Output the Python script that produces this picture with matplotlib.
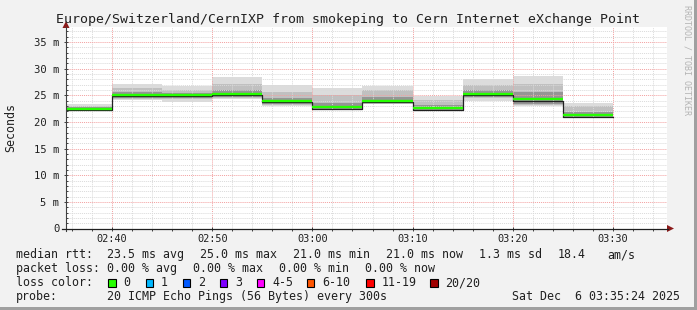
from datetime import datetime, timedelta
import numpy as np
import matplotlib
matplotlib.use('Agg')
import matplotlib.pyplot as plt
import matplotlib.dates as mdates
import matplotlib.transforms as mtransforms
from matplotlib.lines import Line2D
from matplotlib.patches import Polygon, Rectangle
from matplotlib.ticker import MultipleLocator, FuncFormatter

# fine dell'intervallo (step 300s) per ogni campione
seg_end = ['02:40', '02:45', '02:50', '02:55', '03:00', '03:05',
           '03:10', '03:15', '03:20', '03:25', '03:30']
# mediana rtt (ms)
median = [22.2, 24.8, 24.8, 25.0, 23.7, 22.5, 23.7, 22.3, 25.0, 24.0, 21.0]
# fumo: ping minimo/massimo e fasce interne (ms)
smoke_lo = [22.0, 24.1, 23.8, 24.2, 23.0, 22.2, 23.3, 22.2, 24.0, 23.0, 21.0]
smoke_hi = [23.3, 27.1, 26.8, 28.4, 26.9, 26.4, 26.8, 24.9, 28.1, 28.7, 23.5]
mid_lo = [22.1, 24.3, 24.2, 24.4, 23.1, 22.3, 23.4, 22.3, 24.4, 23.1, 21.0]
mid_hi = [23.0, 26.3, 26.0, 27.2, 25.6, 25.0, 26.0, 24.1, 26.9, 27.2, 22.9]
core_lo = [22.1, 24.5, 24.5, 24.6, 23.3, 22.4, 23.5, 22.3, 24.6, 23.4, 21.0]
core_hi = [22.7, 25.6, 25.5, 25.9, 24.4, 23.5, 24.7, 23.2, 25.9, 25.6, 21.9]

loss_labels = ['0', '1', '2', '3', '4-5', '6-10', '11-19', '20/20']
loss_colors = ['#26ff00', '#00b8ff', '#0059ff', '#7e00ff', '#ff00ff',
               '#ff5500', '#ff0000', '#a10000']

title = 'Europe/Switzerland/CernIXP from smokeping to Cern Internet eXchange Point'
stamp = 'Sat Dec  6 03:35:24 2025'

W, H = 697, 310
MONO = 'DejaVu Sans Mono'


def px(x, y):
    # pixel (dall'alto a sinistra) -> frazione di figura
    return x / W, 1 - y / H


fig = plt.figure(figsize=(W / 100, H / 100), dpi=100, facecolor='#f2f2f2')
ax = fig.add_axes([66 / W, (H - 228.5) / H, (667 - 66) / W, (228.5 - 27) / H])
ax.set_facecolor('white')

day = datetime(2025, 12, 6)
ends = [day + timedelta(hours=int(s[:2]), minutes=int(s[3:])) for s in seg_end]
starts = [e - timedelta(seconds=300) for e in ends]
width = 300 / 86400.0
xs = mdates.date2num(starts)

sl, sh = np.array(smoke_lo), np.array(smoke_hi)
ml, mh = np.array(mid_lo), np.array(mid_hi)
cl, ch = np.array(core_lo), np.array(core_hi)
ax.bar(xs, sh - sl, bottom=sl, width=width, align='edge', color='#dcdcdc', linewidth=0, zorder=1)
ax.bar(xs, mh - ml, bottom=ml, width=width, align='edge', color='#c0c0c0', linewidth=0, zorder=1.1)
ax.bar(xs, ch - cl, bottom=cl, width=width, align='edge', color='#959595', linewidth=0, zorder=1.2)

edges = list(xs) + [mdates.date2num(ends[-1])]
ax.step(edges, median + [median[-1]], where='post', color='#202020', lw=0.9, zorder=3)
up = mtransforms.offset_copy(ax.transData, fig=fig, x=0, y=1.3, units='dots')
ax.hlines(median, xs, mdates.date2num(ends), color=loss_colors[0], lw=1.7,
          transform=up, zorder=4)

ax.set_xlim(datetime(2025, 12, 6, 2, 35, 24), datetime(2025, 12, 6, 3, 35, 24))
ax.set_ylim(0, 37.8)

ax.xaxis.set_major_locator(mdates.MinuteLocator(byminute=range(0, 60, 10)))
ax.xaxis.set_minor_locator(mdates.MinuteLocator(byminute=range(0, 60, 2)))
ax.xaxis.set_major_formatter(mdates.DateFormatter('%H:%M'))
ax.yaxis.set_major_locator(MultipleLocator(5))
ax.yaxis.set_minor_locator(MultipleLocator(1))
ax.yaxis.set_major_formatter(FuncFormatter(lambda v, p: '0' if v == 0 else '%d m' % v))

ax.set_axisbelow(False)
ax.grid(which='minor', color='#dadada', linestyle=(0, (1, 1)), lw=0.7)
ax.grid(which='major', color='#f3a0a0', linestyle=(0, (1, 1)), lw=0.7)
for sp in ax.spines.values():
    sp.set_visible(False)

ax.tick_params(which='both', color='#404040', width=0.7)
ax.tick_params(axis='y', which='major', direction='inout', length=3.0, pad=3.2, labelsize=7.6)
ax.tick_params(axis='y', which='minor', direction='in', length=1.4)
ax.tick_params(axis='x', which='major', direction='inout', length=3.0, pad=2.6, labelsize=7.4)
ax.tick_params(axis='x', which='minor', direction='out', length=1.2)
for lab in ax.get_xticklabels() + ax.get_yticklabels():
    lab.set_family(MONO)
    lab.set_color('#202020')

# assi con frecce come rrdtool
fig.add_artist(Line2D(*zip(px(66, 231), px(66, 27)), transform=fig.transFigure,
                      color='#404040', lw=0.8))
fig.add_artist(Line2D(*zip(px(62, 228.5), px(668, 228.5)), transform=fig.transFigure,
                      color='#202020', lw=0.9))
fig.add_artist(Polygon([px(62.5, 28), px(69.5, 28), px(66, 21)], closed=True,
                       transform=fig.transFigure, color='#8b1a1a', lw=0))
fig.add_artist(Polygon([px(667, 225), px(667, 232), px(674, 228.5)], closed=True,
                       transform=fig.transFigure, color='#8b1a1a', lw=0))

fig.text(*px(347.5, 19), title, ha='center', va='center', family=MONO,
         fontsize=9.5, color='#202020')
fig.text(*px(11, 127.5), 'Seconds', ha='center', va='center', rotation=90,
         family=MONO, fontsize=8.4, color='#202020')
fig.text(*px(687.5, 5), 'RRDTOOL / TOBI OETIKER', ha='center', va='top',
         rotation=270, family=MONO, fontsize=6, color='#b4b4b4')


def txt(x, y, s):
    fig.text(*px(x, y), s, ha='left', va='center', family=MONO,
             fontsize=8.4, color='#202020')


row1 = [(16, 'median rtt:'), (107, '23.5 ms avg'), (200, '25.0 ms max'),
        (293, '21.0 ms min'), (386, '21.0 ms now'), (479, '1.3 ms sd'),
        (558, '18.4'), (607, 'am/s')]
row2 = [(16, 'packet loss:'), (107, '0.00 % avg'), (193, '0.00 % max'),
        (279, '0.00 % min'), (365, '0.00 % now')]
for x, s in row1:
    txt(x, 254.5, s)
for x, s in row2:
    txt(x, 268.5, s)

txt(16, 282.5, 'loss color:')
box_x = [108, 145.5, 182.5, 219.5, 256.5, 306.5, 366, 430]
for bx, lab, col in zip(box_x, loss_labels, loss_colors):
    x0, y0 = px(bx, 286.5)
    fig.add_artist(Rectangle((x0, y0), 7.5 / W, 8 / H, transform=fig.transFigure,
                             facecolor=col, edgecolor='black', lw=0.8))
    txt(bx + 15.5, 282.5, lab)

txt(16, 296.5, 'probe:')
txt(107, 296.5, '20 ICMP Echo Pings (56 Bytes) every 300s')
fig.text(*px(680, 296.5), stamp, ha='right', va='center', family=MONO,
         fontsize=8.4, color='#202020')

# bordo ombreggiato
fig.add_artist(Rectangle((694 / W, 0), 3 / W, 1, transform=fig.transFigure,
                         color='#a0a0a0', lw=0))
fig.add_artist(Rectangle((0, 0), 1, 3 / H, transform=fig.transFigure,
                         color='#a0a0a0', lw=0))

fig.savefig('out.png', dpi=100, facecolor=fig.get_facecolor())
